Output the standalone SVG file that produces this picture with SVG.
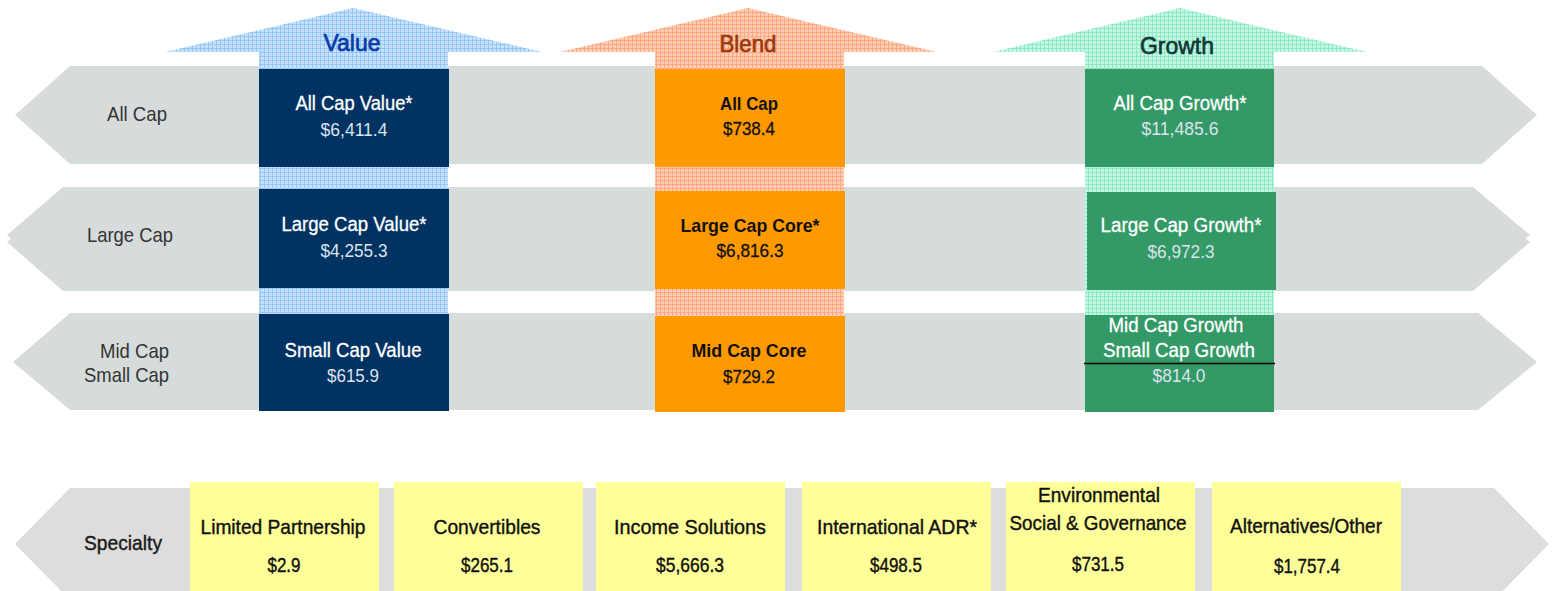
<svg xmlns="http://www.w3.org/2000/svg" width="1554" height="591" viewBox="0 0 1554 591">
<defs>
<pattern id="pv" width="4" height="4" patternUnits="userSpaceOnUse"><rect width="4" height="4" fill="#c6e1fc"/><path d="M0 0.5H4M0.5 0V4" stroke="#96c6f3" stroke-width="1"/></pattern>
<pattern id="pb" width="4" height="4" patternUnits="userSpaceOnUse"><rect width="4" height="4" fill="#ffcdb4"/><path d="M0 0.5H4M0.5 0V4" stroke="#ffa883" stroke-width="1"/></pattern>
<pattern id="pg" width="4" height="4" patternUnits="userSpaceOnUse"><rect width="4" height="4" fill="#c2f8e2"/><path d="M0 0.5H4M0.5 0V4" stroke="#8fe9c6" stroke-width="1"/></pattern>
</defs>
<style>
text{font-family:"Liberation Sans",Arial,sans-serif;text-anchor:middle}
.band{fill:#d6dcdc}
.sband{fill:#dddddd}
.lbl{font-size:21px;fill:#333333}
.nv{fill:#003262}
.or{fill:#ff9900}
.gr{fill:#339966}
.ye{fill:#ffff99}
.wt{font-size:20px;fill:#ffffff;stroke:#ffffff;stroke-width:0.3}
.wv{font-size:19px;fill:#dde3ee}
.bt{font-size:19px;fill:#111111;font-weight:bold}
.bv{font-size:19px;fill:#111111;stroke:#111111;stroke-width:0.3}
.yt{font-size:21px;fill:#111111;stroke:#111111;stroke-width:0.4}
.yv{font-size:19.5px;fill:#111111;stroke:#111111;stroke-width:0.4}
.hd{font-size:24px;stroke-width:0.7}
</style>
<g id="rows">
<polygon id="row-allcap" class="band" points="70,66 1482,66 1537,115 1482,164 70,164 15,115"/>
<g id="row-largecap">
<polygon class="band" points="63,187 1473,187 1530,235 1473,283 63,283 7,235"/>
<polygon class="band" points="63,194 1473,194 1530,242 1473,291 63,291 7,242"/>
</g>
<polygon id="row-midsmall" class="band" points="70,313 1478,313 1537,362 1478,410 70,410 13,362"/>
<polygon id="row-specialty" class="sband" points="70,488 1494,488 1549,544 1494,600 70,600 15,544"/>
</g>
<g id="row-labels">
<text class="lbl" x="137" y="121" textLength="60" lengthAdjust="spacingAndGlyphs">All Cap</text>
<text class="lbl" x="130" y="242" textLength="86" lengthAdjust="spacingAndGlyphs">Large Cap</text>
<text class="lbl" x="169" y="358" style="text-anchor:end" textLength="69" lengthAdjust="spacingAndGlyphs">Mid Cap</text>
<text class="lbl" x="169" y="382" style="text-anchor:end" textLength="85" lengthAdjust="spacingAndGlyphs">Small Cap</text>
<text class="lbl" x="123" y="550" style="fill:#1a1a1a;stroke:#1a1a1a;stroke-width:0.4" textLength="78" lengthAdjust="spacingAndGlyphs">Specialty</text>
</g>
<g id="connectors">
<polygon id="arrow-value" fill="url(#pv)" points="165,52 353,8 542,52 448,52 448,410 259,410 259,52"/>
<polygon id="arrow-blend" fill="url(#pb)" points="560,52 748,8 937,52 844,52 844,410 655,410 655,52"/>
<polygon id="arrow-growth" fill="url(#pg)" points="993,52 1180,8 1367,52 1274,52 1274,410 1085,410 1085,52"/>
</g>
<g id="headers">
<text class="hd" x="352" y="51" fill="#0a3aa8" stroke="#0a3aa8" textLength="57" lengthAdjust="spacingAndGlyphs">Value</text>
<text class="hd" x="748" y="52" fill="#9a3a10" stroke="#9a3a10" textLength="57" lengthAdjust="spacingAndGlyphs">Blend</text>
<text class="hd" x="1177" y="54" fill="#123838" stroke="#123838" textLength="74" lengthAdjust="spacingAndGlyphs">Growth</text>
</g>
<g id="value-allcap"><rect class="nv" x="259" y="69" width="190" height="98"/><text class="wt" x="354" y="110" textLength="117" lengthAdjust="spacingAndGlyphs">All Cap Value*</text><text class="wv" x="354" y="136" textLength="67" lengthAdjust="spacingAndGlyphs">$6,411.4</text></g>
<g id="value-largecap"><rect class="nv" x="259" y="189" width="190" height="99"/><text class="wt" x="354" y="231" textLength="145" lengthAdjust="spacingAndGlyphs">Large Cap Value*</text><text class="wv" x="354" y="257" textLength="67" lengthAdjust="spacingAndGlyphs">$4,255.3</text></g>
<g id="value-smallcap"><rect class="nv" x="259" y="314" width="190" height="97"/><text class="wt" x="353" y="357" textLength="137" lengthAdjust="spacingAndGlyphs">Small Cap Value</text><text class="wv" x="353" y="382" textLength="52" lengthAdjust="spacingAndGlyphs">$615.9</text></g>
<g id="blend-allcap"><rect class="or" x="655" y="69" width="190" height="98"/><text class="bt" x="749" y="110" textLength="58" lengthAdjust="spacingAndGlyphs">All Cap</text><text class="bv" x="749" y="135" textLength="52" lengthAdjust="spacingAndGlyphs">$738.4</text></g>
<g id="blend-largecap"><rect class="or" x="655" y="191" width="190" height="98"/><text class="bt" x="750" y="232" textLength="139" lengthAdjust="spacingAndGlyphs">Large Cap Core*</text><text class="bv" x="750" y="257" textLength="67" lengthAdjust="spacingAndGlyphs">$6,816.3</text></g>
<g id="blend-midcap"><rect class="or" x="655" y="316" width="190" height="96"/><text class="bt" x="749" y="357" textLength="115" lengthAdjust="spacingAndGlyphs">Mid Cap Core</text><text class="bv" x="749" y="383" textLength="52" lengthAdjust="spacingAndGlyphs">$729.2</text></g>
<g id="growth-allcap"><rect class="gr" x="1085" y="69" width="189" height="98"/><text class="wt" x="1180" y="110" textLength="133" lengthAdjust="spacingAndGlyphs">All Cap Growth*</text><text class="wv" x="1180" y="135" textLength="77" lengthAdjust="spacingAndGlyphs">$11,485.6</text></g>
<g id="growth-largecap"><rect class="gr" x="1087" y="192" width="189" height="98"/><text class="wt" x="1181" y="232" textLength="161" lengthAdjust="spacingAndGlyphs">Large Cap Growth*</text><text class="wv" x="1181" y="258" textLength="67" lengthAdjust="spacingAndGlyphs">$6,972.3</text></g>
<g id="growth-midsmall"><rect class="gr" x="1085" y="315" width="189" height="97"/><text class="wt" x="1176" y="332" textLength="135" lengthAdjust="spacingAndGlyphs">Mid Cap Growth</text><text class="wt" x="1179" y="357" textLength="152" lengthAdjust="spacingAndGlyphs">Small Cap Growth</text><line x1="1084" y1="363.5" x2="1275" y2="363.5" stroke="#000" stroke-width="1.5"/><text class="wv" x="1179" y="382" textLength="53" lengthAdjust="spacingAndGlyphs">$814.0</text></g>
<g id="spec-lp"><rect class="ye" x="190" y="482" width="189" height="111"/><text class="yt" x="283" y="534" textLength="165" lengthAdjust="spacingAndGlyphs">Limited Partnership</text><text class="yv" x="284" y="572" textLength="33" lengthAdjust="spacingAndGlyphs">$2.9</text></g>
<g id="spec-conv"><rect class="ye" x="394" y="482" width="189" height="111"/><text class="yt" x="487" y="534" textLength="107" lengthAdjust="spacingAndGlyphs">Convertibles</text><text class="yv" x="487" y="572" textLength="52" lengthAdjust="spacingAndGlyphs">$265.1</text></g>
<g id="spec-income"><rect class="ye" x="596" y="482" width="189" height="111"/><text class="yt" x="690" y="534" textLength="152" lengthAdjust="spacingAndGlyphs">Income Solutions</text><text class="yv" x="690" y="572" textLength="68" lengthAdjust="spacingAndGlyphs">$5,666.3</text></g>
<g id="spec-adr"><rect class="ye" x="802" y="482" width="189" height="111"/><text class="yt" x="897" y="534" textLength="160" lengthAdjust="spacingAndGlyphs">International ADR*</text><text class="yv" x="896" y="572" textLength="52" lengthAdjust="spacingAndGlyphs">$498.5</text></g>
<g id="spec-esg"><rect class="ye" x="1006" y="482" width="189" height="111"/><text class="yt" x="1099" y="502" textLength="122" lengthAdjust="spacingAndGlyphs">Environmental</text><text class="yt" x="1098" y="530" textLength="177" lengthAdjust="spacingAndGlyphs">Social &amp; Governance</text><text class="yv" x="1098" y="571" textLength="52" lengthAdjust="spacingAndGlyphs">$731.5</text></g>
<g id="spec-alt"><rect class="ye" x="1212" y="482" width="189" height="111"/><text class="yt" x="1306" y="533" textLength="152" lengthAdjust="spacingAndGlyphs">Alternatives/Other</text><text class="yv" x="1307" y="573" textLength="66" lengthAdjust="spacingAndGlyphs">$1,757.4</text></g>
</svg>
